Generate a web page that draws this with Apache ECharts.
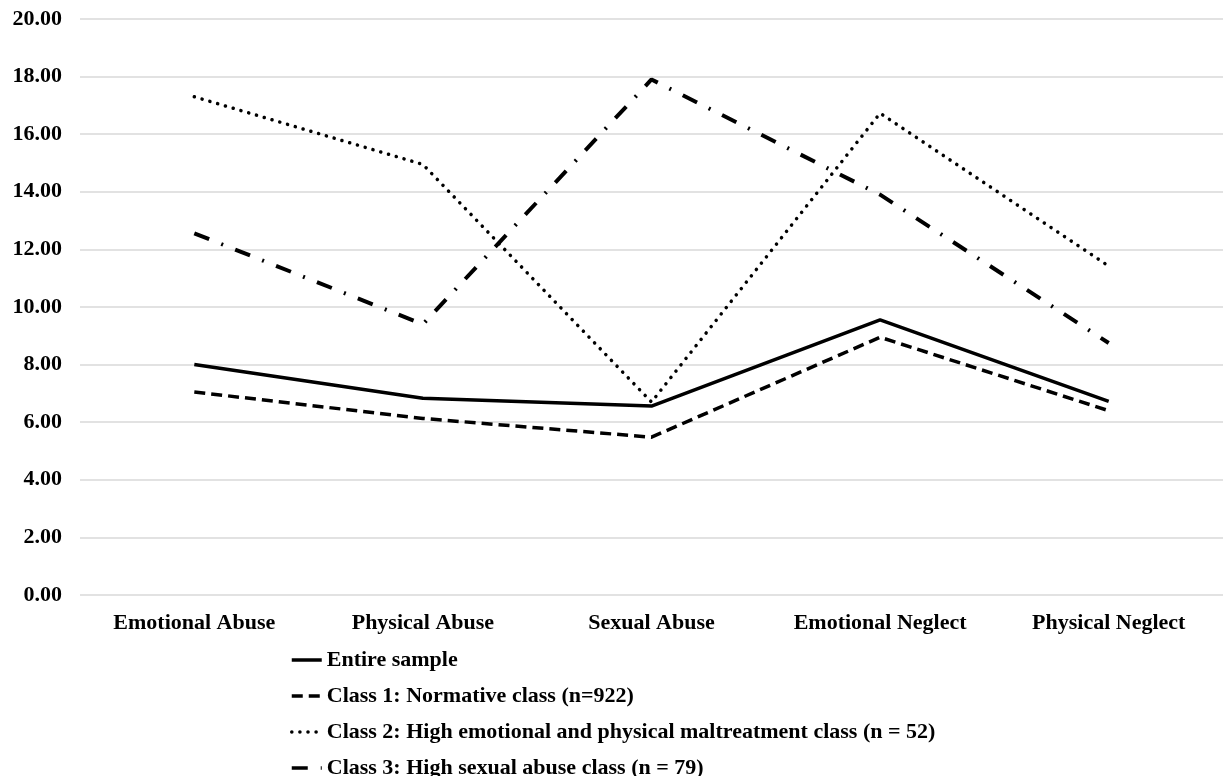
<!DOCTYPE html>
<html>
<head>
<meta charset="utf-8">
<script src="https://cdn.jsdelivr.net/npm/echarts@6/dist/echarts.min.js"></script>
<style>
  html, body { margin: 0; padding: 0; background: #fff; }
  #chart { width: 1223px; height: 776px; }
</style>
</head>
<body>
<div id="chart"></div>
<script>
var categories = ['Emotional Abuse', 'Physical Abuse', 'Sexual Abuse', 'Emotional Neglect', 'Physical Neglect'];
var entireSample = [8.0, 6.83, 6.56, 9.55, 6.72];
var class1 = [7.05, 6.13, 5.48, 8.95, 6.4];
var class2 = [17.3, 14.95, 6.7, 16.73, 11.42];
var class3 = [12.56, 9.4, 17.9, 13.9, 8.75];
var seriesNames = [
    'Entire sample',
    'Class 1: Normative class (n=922)',
    'Class 2: High emotional and physical maltreatment class (n = 52)',
    'Class 3: High sexual abuse class (n = 79)'
];

var font = '"Liberation Serif", "Times New Roman", serif';

function lineSeries(name, data, style) {
    return {
        name: name,
        type: 'line',
        data: data,
        symbol: 'none',
        lineStyle: style,
        itemStyle: { color: '#000' }
    };
}

var chart = echarts.init(document.getElementById('chart'));
chart.setOption({
    animation: false,
    color: ['#000'],
    grid: { left: 80, right: 0, top: 19, bottom: 181 },
    legend: {
        orient: 'vertical',
        left: 290,
        top: 649,
        height: 200,
        padding: 0,
        itemWidth: 30,
        itemHeight: 14,
        itemGap: 14,
        itemStyle: { opacity: 0 },
        lineStyle: { width: 3.5 },
        data: seriesNames,
        textStyle: {
            fontFamily: font,
            fontWeight: 'bold',
            fontSize: 22,
            lineHeight: 21,
            color: '#000'
        }
    },
    xAxis: {
        type: 'category',
        data: categories,
        boundaryGap: true,
        axisLine: { show: false },
        axisTick: { show: false },
        axisLabel: {
            margin: 17,
            fontFamily: font,
            fontWeight: 'bold',
            fontSize: 22,
            color: '#000'
        }
    },
    yAxis: {
        type: 'value',
        min: 0,
        max: 20,
        interval: 2,
        axisLine: { show: false },
        axisTick: { show: false },
        splitLine: { lineStyle: { color: '#d9d9d9', width: 1.5 } },
        axisLabel: {
            margin: 18,
            fontFamily: font,
            fontWeight: 'bold',
            fontSize: 22,
            color: '#000',
            formatter: function (v) { return v.toFixed(2); }
        }
    },
    series: [
        lineSeries(seriesNames[0], entireSample, { color: '#000', width: 3.5, type: 'solid' }),
        lineSeries(seriesNames[1], class1, { color: '#000', width: 3.5, type: [11, 6] }),
        lineSeries(seriesNames[2], class2, { color: '#000', width: 3.5, type: [0.1, 8], cap: 'round' }),
        lineSeries(seriesNames[3], class3, { color: '#000', width: 4, type: [16, 13, 2, 13] })
    ]
});
</script>
</body>
</html>
